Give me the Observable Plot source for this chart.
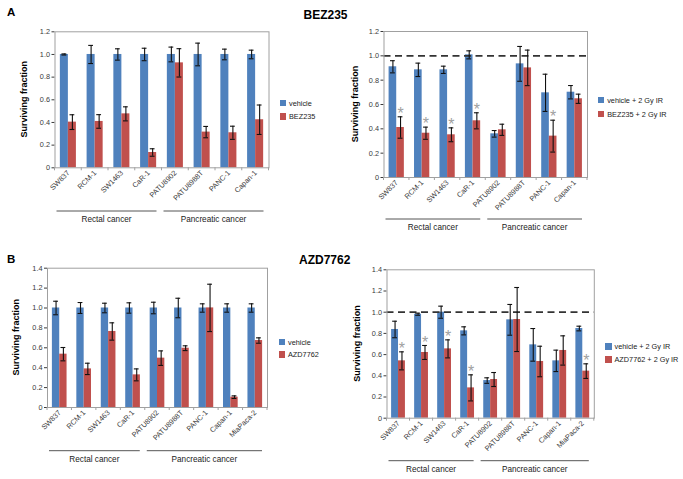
<!DOCTYPE html>
<html><head><meta charset="utf-8">
<script src="https://cdn.jsdelivr.net/npm/d3@7"></script>
<script src="https://cdn.jsdelivr.net/npm/@observablehq/plot@0.6"></script>
<style>
body{margin:0;background:#fff;font-family:"Liberation Sans",Arial,sans-serif;}
#fig{position:relative;width:683px;height:479px;overflow:hidden;}
.abs{position:absolute;white-space:nowrap;}
.ttl{font-weight:bold;color:#000;}
.sw{position:absolute;width:6.5px;height:6.5px;}
.lt{position:absolute;font-size:7.3px;color:#222;line-height:7px;}
</style>
</head><body><div id="fig"></div>
<script>
// ---- data ----
const catsA = ["SW837","RCM-1","SW1463","CaR-1","PATU8902","PATU8988T","PANC-1","Capan-1"];
const catsB = ["SW837","RCM-1","SW1463","CaR-1","PATU8902","PATU8988T","PANC-1","Capan-1","MiaPaca-2"];
const groupNames = ["Rectal cancer","Pancreatic cancer"];
const groupSizesA = [4,4];
const groupSizesB = [4,5];

// Panel A left: vehicle vs BEZ235
const vehA = [1,1,1,1,1,1,1,1];
const vehAErr = [0.005,0.08,0.05,0.055,0.065,0.10,0.047,0.038];
const bezA = [0.403,0.409,0.476,0.135,0.926,0.315,0.309,0.424];
const bezAErr = [0.065,0.06,0.062,0.033,0.125,0.05,0.058,0.13];
// Panel A right: + 2 Gy IR
const vehIRA = [0.91,0.885,0.885,1.008,0.359,0.934,0.696,0.701];
const vehIRAErr = [0.05,0.055,0.03,0.033,0.027,0.143,0.153,0.055];
const bezIRA = [0.411,0.364,0.351,0.466,0.392,0.901,0.34,0.647];
const bezIRAErr = [0.088,0.05,0.057,0.066,0.046,0.146,0.131,0.038];
const sigA = [true,true,true,true,false,false,true,false];
// Panel B left: vehicle vs AZD7762
const vehB = [1,1,1,1,1,1,1,1,1];
const vehBErr = [0.068,0.055,0.048,0.052,0.058,0.098,0.042,0.042,0.042];
const azdB = [0.536,0.388,0.764,0.328,0.496,0.596,1.001,0.104,0.673];
const azdBErr = [0.067,0.057,0.087,0.06,0.073,0.024,0.238,0.013,0.027];
// Panel B right: + 2 Gy IR
const vehIRB = [0.837,0.981,1.0,0.824,0.355,0.928,0.692,0.541,0.846];
const vehIRBErr = [0.078,0.01,0.057,0.038,0.026,0.145,0.154,0.101,0.022];
const azdIRB = [0.541,0.62,0.654,0.286,0.365,0.931,0.535,0.639,0.444];
const azdIRBErr = [0.085,0.066,0.085,0.123,0.066,0.302,0.144,0.138,0.069];
const sigB = [true,true,true,true,false,false,false,false,true];

const ticksA = [0,0.2,0.4,0.6,0.8,1.0,1.2];
const ticksB = [0,0.2,0.4,0.6,0.8,1.0,1.2,1.4];

const legendA1 = ["vehicle","BEZ235"];
const legendA2 = ["vehicle + 2 Gy IR","BEZ235 + 2 Gy IR"];
const legendB1 = ["vehicle","AZD7762"];
const legendB2 = ["vehicle + 2 Gy IR","AZD7762 + 2 Gy IR"];

const BLUE = "#4f81bd", RED = "#c0504d";
const fig = document.getElementById("fig");

function addText(txt, cls, css) {
  const d = document.createElement("div");
  d.className = "abs " + cls;
  Object.assign(d.style, css);
  d.textContent = txt;
  fig.appendChild(d);
  return d;
}

function panel(p) {
  const rows = p.cats.map((c,i)=>({cat:c, v0:p.s0[i], e0:p.e0[i], v1:p.s1[i], e1:p.e1[i], sig:p.sig ? p.sig[i] : false}));
  const xr = [p.ml, p.w - p.mr];
  const band = d3.scaleBand().domain(p.cats).range(xr).paddingInner(0.4).paddingOuter(0.2);
  const bw = band.bandwidth(), step = band.step();
  const cap = 2.4;
  const hi0 = d=>d.v0+d.e0, lo0 = d=>d.v0-d.e0, hi1 = d=>d.v1+d.e1, lo1 = d=>d.v1-d.e1;
  const errStyle = {stroke:"#111", strokeWidth:1.1};
  const svg = Plot.plot({
    width: p.w, height: p.h,
    marginLeft: p.ml, marginRight: p.mr, marginTop: p.mt, marginBottom: p.mb,
    style: {fontSize:"7.3px", fontFamily:"Liberation Sans, Arial, sans-serif", color:"#3a3a3a", background:"transparent", overflow:"visible"},
    x: {type:"band", domain:p.cats, range:xr, paddingInner:0.4, paddingOuter:0.2, round:false,
        tickRotate:-45, tickSize:0, tickPadding:4, label:null},
    y: {domain:[0,p.yMax], range:[p.h-p.mb, p.mt], ticks:p.ticks,
        tickFormat: d => d === 0 ? "0" : d.toFixed(1), tickSize:3, tickPadding:2, label:null},
    marks: [
      Plot.barY(rows, {x:"cat", y:"v0", fill:BLUE, insetRight: bw/2}),
      Plot.barY(rows, {x:"cat", y:"v1", fill:RED, insetLeft: bw/2}),
      p.dashed ? Plot.ruleY([1], {stroke:"#333", strokeWidth:1.8, strokeDasharray:"7,4.5"}) : null,
      Plot.ruleX(rows, {x:"cat", y1:lo0, y2:hi0, dx:-bw/4, ...errStyle}),
      Plot.ruleX(rows, {x:"cat", y1:lo1, y2:hi1, dx:bw/4, ...errStyle}),
      Plot.tickY(rows, {x:"cat", y:hi0, insetLeft:bw/4-cap, insetRight:3*bw/4-cap, ...errStyle}),
      Plot.tickY(rows, {x:"cat", y:lo0, insetLeft:bw/4-cap, insetRight:3*bw/4-cap, ...errStyle}),
      Plot.tickY(rows, {x:"cat", y:hi1, insetLeft:3*bw/4-cap, insetRight:bw/4-cap, ...errStyle}),
      Plot.tickY(rows, {x:"cat", y:lo1, insetLeft:3*bw/4-cap, insetRight:bw/4-cap, ...errStyle}),
      Plot.text(rows.filter(d=>d.sig), {x:"cat", y:hi1, text:()=>"*", dx:bw/4, dy:-3, fill:"#a0a0a0", fontSize:16}),
      Plot.frame({stroke:"#a0a0a0"})
    ]
  });
  svg.style.position = "absolute";
  svg.style.left = p.left + "px";
  svg.style.top = p.top + "px";
  fig.appendChild(svg);
  const s = d3.select(svg);
  const y0 = p.h - p.mb;
  // category boundary ticks
  for (let i = 0; i <= p.cats.length; i++) {
    const xb = xr[0] + i*step;
    s.append("line").attr("x1",xb).attr("x2",xb).attr("y1",y0).attr("y2",y0+3).attr("stroke","#a0a0a0");
  }
  // group brackets
  let start = 0;
  p.groups.forEach((g,k)=>{
    const a = xr[0] + start*step + 2;
    const b = xr[0] + (start + p.sizes[k])*step - 5;
    s.append("line").attr("x1",a).attr("x2",b).attr("y1",p.gy).attr("y2",p.gy).attr("stroke","#555").attr("stroke-width",1);
    s.append("text").attr("x",(a+b)/2).attr("y",p.gly).attr("text-anchor","middle")
      .attr("font-size","8.2px").attr("fill","#222").text(g);
    start += p.sizes[k];
  });
  // y label
  s.append("text").attr("transform",`translate(${p.ylx},${(p.mt + y0)/2}) rotate(-90)`)
    .attr("text-anchor","middle").attr("font-size","9px").attr("font-weight","bold").attr("fill","#000")
    .text("Surviving fraction");
  // legend
  const cols = [BLUE, RED];
  p.legend.forEach((t,i)=>{
    const sq = document.createElement("div");
    sq.className = "sw";
    sq.style.left = p.lx + "px"; sq.style.top = (p.ly + i*p.lgap) + "px"; sq.style.background = cols[i];
    fig.appendChild(sq);
    const lt = document.createElement("div");
    lt.className = "lt";
    lt.style.left = (p.lx + 9.5) + "px"; lt.style.top = (p.ly + i*p.lgap) + "px";
    lt.textContent = t;
    fig.appendChild(lt);
  });
}

panel({left:0, top:0, w:272, h:232, ml:54.5, mr:3.5, mt:31.3, mb:64.7, cats:catsA,
  s0:vehA, e0:vehAErr, s1:bezA, e1:bezAErr, sig:null, yMax:1.2, ticks:ticksA, dashed:false,
  groups:groupNames, sizes:groupSizesA, gy:211, gly:222, ylx:27, legend:legendA1, lx:279.5, ly:99.5, lgap:13.5});
panel({left:340, top:0, w:250, h:235, ml:43.5, mr:3, mt:31, mb:58, cats:catsA,
  s0:vehIRA, e0:vehIRAErr, s1:bezIRA, e1:bezIRAErr, sig:sigA, yMax:1.2, ticks:ticksA, dashed:true,
  groups:groupNames, sizes:groupSizesA, gy:219, gly:230, ylx:18, legend:legendA2, lx:597.7, ly:96.5, lgap:14});
panel({left:0, top:240, w:272, h:235, ml:47, mr:5, mt:27.7, mb:68, cats:catsB,
  s0:vehB, e0:vehBErr, s1:azdB, e1:azdBErr, sig:null, yMax:1.4, ticks:ticksB, dashed:false,
  groups:groupNames, sizes:groupSizesB, gy:210.7, gly:222, ylx:18.5, legend:legendB1, lx:278.5, ly:338.5, lgap:12.7});
panel({left:340, top:240, w:258, h:235, ml:46.5, mr:4.2, mt:29.3, mb:57.3, cats:catsB,
  s0:vehIRB, e0:vehIRBErr, s1:azdIRB, e1:azdIRBErr, sig:sigB, yMax:1.4, ticks:ticksB, dashed:true,
  groups:groupNames, sizes:groupSizesB, gy:220.7, gly:231.5, ylx:20, legend:legendB2, lx:605, ly:343.3, lgap:12.7});

// titles
addText("A", "ttl", {left:"7px", top:"6px", fontSize:"11.5px"});
addText("B", "ttl", {left:"7px", top:"253px", fontSize:"11.5px"});
const tA = addText("BEZ235", "ttl", {left:"325.5px", top:"8px", fontSize:"12px", transform:"translateX(-50%)"});
const tB = addText("AZD7762", "ttl", {left:"324.7px", top:"253px", fontSize:"12px", transform:"translateX(-50%)"});
</script>
</body></html>
